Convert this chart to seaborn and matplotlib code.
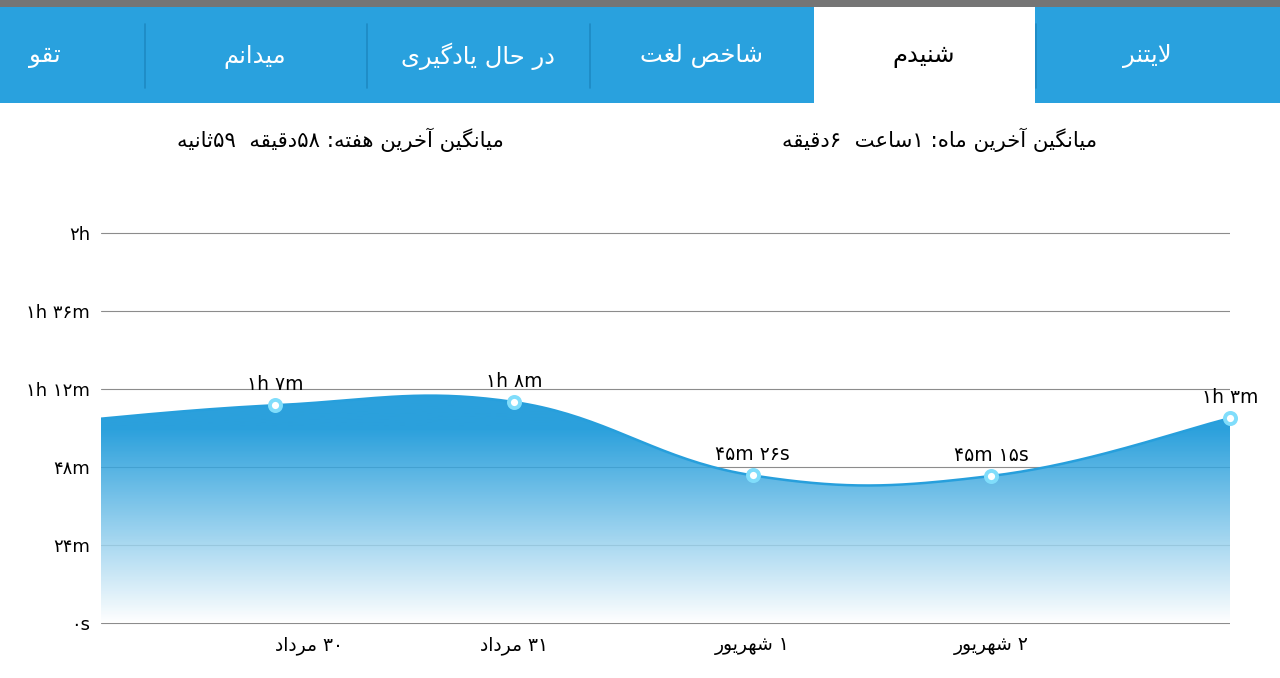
import numpy as np
import matplotlib
matplotlib.use("Agg")
import matplotlib.pyplot as plt
import seaborn as sns
from matplotlib.patches import Rectangle
from matplotlib.colors import LinearSegmentedColormap

# ---- data ----
tab_names = ["لایتنر", "شنیدم", "شاخص لغت", "در حال یادگیری", "میدانم", "تقو"]
selected_tab = "شنیدم"
week_avg = "میانگین آخرین هفته: ۵۸دقیقه  ۵۹ثانیه"
month_avg = "میانگین آخرین ماه: ۱ساعت  ۶دقیقه"

day_labels = ["۳۰ مرداد", "۳۱ مرداد", "۱ شهریور", "۲ شهریور"]
minutes = [67, 68, 45 + 26 / 60, 45 + 15 / 60, 63]
point_labels = ["۱h ۷m", "۱h ۸m", "۴۵m ۲۶s", "۴۵m ۱۵s", "۱h ۳m"]
prev_day_minutes = 61  # day before, scrolled almost out of view

y_ticks = [0, 24, 48, 72, 96, 120]
y_labels = ["۰s", "۲۴m", "۴۸m", "۱h ۱۲m", "۱h ۳۶m", "۲h"]

BLUE = "#29a1de"


# ---- tiny persian shaper (matplotlib has no arabic shaping / bidi) ----
FORMS = {
    "ا": (0xFE8D, 0xFE8E), "آ": (0xFE81, 0xFE82),
    "د": (0xFEA9, 0xFEAA), "ر": (0xFEAD, 0xFEAE), "و": (0xFEED, 0xFEEE),
    "ت": (0xFE95, 0xFE96, 0xFE97, 0xFE98), "ث": (0xFE99, 0xFE9A, 0xFE9B, 0xFE9C),
    "ح": (0xFEA1, 0xFEA2, 0xFEA3, 0xFEA4), "خ": (0xFEA5, 0xFEA6, 0xFEA7, 0xFEA8),
    "س": (0xFEB1, 0xFEB2, 0xFEB3, 0xFEB4), "ش": (0xFEB5, 0xFEB6, 0xFEB7, 0xFEB8),
    "ص": (0xFEB9, 0xFEBA, 0xFEBB, 0xFEBC), "ع": (0xFEC9, 0xFECA, 0xFECB, 0xFECC),
    "غ": (0xFECD, 0xFECE, 0xFECF, 0xFED0), "ف": (0xFED1, 0xFED2, 0xFED3, 0xFED4),
    "ق": (0xFED5, 0xFED6, 0xFED7, 0xFED8), "ل": (0xFEDD, 0xFEDE, 0xFEDF, 0xFEE0),
    "م": (0xFEE1, 0xFEE2, 0xFEE3, 0xFEE4), "ن": (0xFEE5, 0xFEE6, 0xFEE7, 0xFEE8),
    "ه": (0xFEE9, 0xFEEA, 0xFEEB, 0xFEEC), "ی": (0xFBFC, 0xFBFD, 0xFBFE, 0xFBFF),
    "گ": (0xFB92, 0xFB93, 0xFB94, 0xFB95),
}
LAM_ALEF = {"ا": (0xFEFB, 0xFEFC), "آ": (0xFEF5, 0xFEF6)}
DIGITS = set("۰۱۲۳۴۵۶۷۸۹0123456789")


def fa(text):
    out = []
    i = 0
    while i < len(text):
        c = text[i]
        if c not in FORMS:
            out.append(c)
            i += 1
            continue
        joins_prev = i > 0 and len(FORMS.get(text[i - 1], ())) == 4
        if c == "ل" and i + 1 < len(text) and text[i + 1] in LAM_ALEF:
            iso, fin = LAM_ALEF[text[i + 1]]
            out.append(chr(fin if joins_prev else iso))
            i += 2
            continue
        f = FORMS[c]
        joins_next = len(f) == 4 and i + 1 < len(text) and text[i + 1] in FORMS
        if len(f) == 2:
            out.append(chr(f[1] if joins_prev else f[0]))
        elif joins_prev and joins_next:
            out.append(chr(f[3]))
        elif joins_prev:
            out.append(chr(f[1]))
        elif joins_next:
            out.append(chr(f[2]))
        else:
            out.append(chr(f[0]))
        i += 1
    # visual order: reverse everything but keep digit runs left-to-right
    tokens = []
    for ch in out:
        if ch in DIGITS and tokens and tokens[-1][-1] in DIGITS:
            tokens[-1] += ch
        else:
            tokens.append(ch)
    return "".join(reversed(tokens))


# ---- smooth curve like the app's cubic line ----
def cubic_curve(xs, ys, intensity=0.2, n=40):
    cx, cy = [], []
    for i in range(len(xs) - 1):
        p = max(i - 1, 0)
        nx = min(i + 2, len(xs) - 1)
        c1x = xs[i] + intensity * (xs[i + 1] - xs[p])
        c1y = ys[i] + intensity * (ys[i + 1] - ys[p])
        c2x = xs[i + 1] - intensity * (xs[nx] - xs[i])
        c2y = ys[i + 1] - intensity * (ys[nx] - ys[i])
        t = np.linspace(0, 1, n)
        a, b, c, d = (1 - t) ** 3, 3 * (1 - t) ** 2 * t, 3 * (1 - t) * t ** 2, t ** 3
        cx.extend(a * xs[i] + b * c1x + c * c2x + d * xs[i + 1])
        cy.extend(a * ys[i] + b * c1y + c * c2y + d * ys[i + 1])
    return np.array(cx), np.array(cy)


sns.set_style("white")
plt.rcParams["font.family"] = ["DejaVu Sans"]
plt.rcParams["text.color"] = "black"
plt.rcParams["xtick.color"] = "black"
plt.rcParams["ytick.color"] = "black"

fig = plt.figure(figsize=(12.8, 6.78), dpi=100)

# header / tabs, drawn in pixel coordinates
hud = fig.add_axes([0, 0, 1, 1])
hud.set_xlim(0, 1280)
hud.set_ylim(678, 0)
hud.axis("off")
hud.add_patch(Rectangle((0, 0), 1280, 7, color="#757575", lw=0))
hud.add_patch(Rectangle((0, 7), 1280, 96, color=BLUE, lw=0))
hud.add_patch(Rectangle((814, 7), 221, 96, color="white", lw=0))
for sx in [145, 367, 590, 1036]:
    hud.plot([sx, sx], [24, 88], color="#1d8ac3", lw=1.2)

tab_centers = [1147, 924, 701, 478, 255, 45]
for name, tx in zip(tab_names, tab_centers):
    hud.text(tx, 56, fa(name), ha="center", va="center", fontsize=17.5,
             color="black" if name == selected_tab else "white")

hud.text(340, 140, fa(week_avg), ha="center", va="center", fontsize=15.3)
hud.text(940, 140, fa(month_avg), ha="center", va="center", fontsize=15.3)

# chart
pad = 0.5
ax = fig.add_axes([101 / 1280, (55 - pad * 3.25) / 678, 1129 / 1280, (390 + 2 * pad * 3.25) / 678])
xs = [-1] + list(range(len(minutes)))
ys = [prev_day_minutes] + minutes
cx, cy = cubic_curve(xs, ys)
x0, x1 = -0.729, len(minutes) - 1

fade = LinearSegmentedColormap.from_list("fade", [(0, "#ffffff"), (0.5, "#048fd6"), (1, "#048fd6")])
grad = np.linspace(0, 1, 256).reshape(-1, 1)
im = ax.imshow(grad, cmap=fade, extent=[x0 - 1, x1, 0, 120], origin="lower",
               aspect="auto", alpha=0.85, zorder=1)
poly = ax.fill_between(cx, cy, 0, color="none", lw=0)
im.set_clip_path(poly.get_paths()[0], transform=ax.transData)

sns.lineplot(x=cx, y=cy, sort=False, estimator=None, color="#279fdc", lw=1.8, ax=ax, zorder=2)
sns.scatterplot(x=list(range(len(minutes))), y=minutes, s=64, color="white",
                edgecolor="#80ddfb", linewidth=2.8, ax=ax, zorder=5, clip_on=False)

for i, (m, lab) in enumerate(zip(minutes, point_labels)):
    ax.annotate(lab, (i, m), xytext=(0, 15), textcoords="offset points",
                ha="center", va="center", fontsize=13.5, annotation_clip=False)

ax.set_xlim(x0, x1)
ax.set_ylim(-pad, 120 + pad)
ax.set_yticks(y_ticks)
ax.set_yticklabels(y_labels)
ax.set_xticks(range(len(day_labels)))
ax.set_xticklabels([fa(d) for d in day_labels])
ax.get_xticklabels()[0].set_horizontalalignment("left")
ax.tick_params(axis="x", length=0, labelsize=13.5, pad=8)
ax.tick_params(axis="y", length=0, labelsize=13, pad=8)
ax.yaxis.grid(True, color="#8c8c8c", lw=0.8)
ax.xaxis.grid(False)
ax.set_axisbelow(True)
for s in ax.spines.values():
    s.set_visible(False)
ax.set_facecolor("none")

fig.savefig("out.png", dpi=100)
